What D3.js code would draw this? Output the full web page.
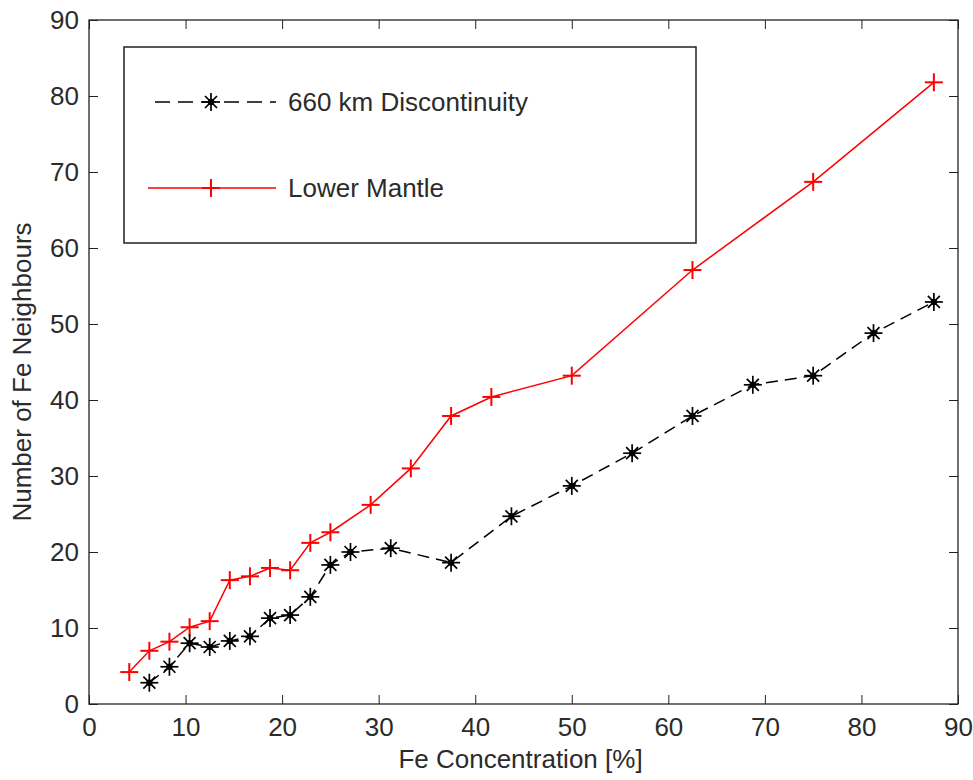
<!DOCTYPE html>
<html><head><meta charset="utf-8">
<script src="https://cdn.jsdelivr.net/npm/d3@7"></script>
<style>body{margin:0;background:#fff}svg{display:block}text{font-family:"Liberation Sans",Arial,sans-serif;fill:#2b2b2b}</style>
</head><body><svg id="c" width="973" height="780"></svg>
<script>
const xTicks = [0,10,20,30,40,50,60,70,80,90];
const yTicks = [0,10,20,30,40,50,60,70,80,90];
const discX = [6.25,8.33,10.42,12.5,14.58,16.67,18.75,20.83,22.92,25,27.08,31.25,37.5,43.75,50,56.25,62.5,68.75,75,81.25,87.5];
const discY = [2.8,4.9,8.0,7.5,8.3,8.9,11.3,11.7,14.1,18.3,20.0,20.5,18.6,24.7,28.7,33.0,37.9,42.0,43.2,48.8,52.9];
const mantleX = [4.17,6.25,8.33,10.42,12.5,14.58,16.67,18.75,20.83,22.92,25,29.17,33.33,37.5,41.67,50,62.5,75,87.5];
const mantleY = [4.2,7.0,8.2,10.1,10.9,16.3,16.8,17.9,17.6,21.2,22.6,26.2,31.0,37.9,40.4,43.2,57.1,68.7,81.8];
const seriesNames = ["660 km Discontinuity","Lower Mantle"];

const svg = d3.select("#c");
const L=89,R=958,T=20,B=704;
const x = d3.scaleLinear().domain([0,90]).range([L,R]);
const y = d3.scaleLinear().domain([0,90]).range([B,T]);
const fs = 26;
const tc = "#2b2b2b";

const tl = 9;
svg.append("g").attr("transform",`translate(0,${B})`)
  .call(d3.axisBottom(x).tickValues(xTicks).tickSize(-tl).tickPadding(14).tickSizeOuter(0))
  .call(g=>{g.select(".domain").remove();g.selectAll("line").attr("stroke","#222");g.selectAll("text").attr("font-size",fs).attr("font-family","Liberation Sans, Arial, sans-serif").attr("fill",tc);});
svg.append("g").attr("transform",`translate(0,${T})`)
  .call(d3.axisTop(x).tickValues(xTicks).tickSize(-tl).tickFormat("").tickSizeOuter(0))
  .call(g=>{g.select(".domain").remove();g.selectAll("line").attr("stroke","#222");});
svg.append("g").attr("transform",`translate(${L},0)`)
  .call(d3.axisLeft(y).tickValues(yTicks).tickSize(-tl).tickPadding(10).tickSizeOuter(0))
  .call(g=>{g.select(".domain").remove();g.selectAll("line").attr("stroke","#222");g.selectAll("text").attr("font-size",fs).attr("font-family","Liberation Sans, Arial, sans-serif").attr("fill",tc);});
svg.append("g").attr("transform",`translate(${R},0)`)
  .call(d3.axisRight(y).tickValues(yTicks).tickSize(-tl).tickFormat("").tickSizeOuter(0))
  .call(g=>{g.select(".domain").remove();g.selectAll("line").attr("stroke","#222");});
svg.append("rect").attr("x",L).attr("y",T).attr("width",R-L).attr("height",B-T)
  .attr("fill","none").attr("stroke","#222").attr("stroke-width",1.3);

svg.append("text").attr("x",(L+R)/2-3).attr("y",768).attr("text-anchor","middle").attr("font-size",fs).text("Fe Concentration [%]");
svg.append("text").attr("transform",`translate(31,${(T+B)/2+10}) rotate(-90)`).attr("text-anchor","middle").attr("font-size",fs).text("Number of Fe Neighbours");

const line = d3.line().x(d=>x(d[0])).y(d=>y(d[1]));
const disc = discX.map((v,i)=>[v,discY[i]]);
const mant = mantleX.map((v,i)=>[v,mantleY[i]]);

function star(g,cx,cy){
  const s=g.append("g").attr("transform",`translate(${cx},${cy})`).attr("stroke","#000").attr("stroke-width",1.7);
  s.append("line").attr("x1",0).attr("x2",0).attr("y1",-9).attr("y2",9);
  s.append("line").attr("x1",-9).attr("x2",9).attr("y1",0).attr("y2",0);
  s.append("line").attr("x1",-6).attr("x2",6).attr("y1",-6).attr("y2",6);
  s.append("line").attr("x1",-6).attr("x2",6).attr("y1",6).attr("y2",-6);
  s.append("circle").attr("r",3.2).attr("fill","#000").attr("stroke","none");
}
function plus(g,cx,cy){
  const s=g.append("g").attr("transform",`translate(${cx},${cy})`).attr("stroke","#ff0000").attr("stroke-width",2);
  s.append("line").attr("x1",0).attr("x2",0).attr("y1",-9).attr("y2",9);
  s.append("line").attr("x1",-9).attr("x2",9).attr("y1",0).attr("y2",0);
}

svg.append("path").datum(mant).attr("d",line).attr("fill","none").attr("stroke","#ff0000").attr("stroke-width",1.5);
svg.append("path").datum(disc).attr("d",line).attr("fill","none").attr("stroke","#000").attr("stroke-width",1.5).attr("stroke-dasharray","12,7");
const gm = svg.append("g"), gd = svg.append("g");
mant.forEach(d=>plus(gm,x(d[0]),y(d[1])));
disc.forEach(d=>star(gd,x(d[0]),y(d[1])));

const lg = svg.append("g");
lg.append("rect").attr("x",124).attr("y",47).attr("width",572).attr("height",196).attr("fill","#fff").attr("stroke","#222").attr("stroke-width",1.5);
lg.append("line").attr("x1",155).attr("x2",276).attr("y1",102).attr("y2",102).attr("stroke","#000").attr("stroke-width",1.5).attr("stroke-dasharray","15,8");
star(lg,211,102);
lg.append("text").attr("x",288).attr("y",111).attr("font-size",fs).text(seriesNames[0]);
lg.append("line").attr("x1",148).attr("x2",276).attr("y1",188).attr("y2",188).attr("stroke","#ff0000").attr("stroke-width",1.5);
plus(lg,211,188);
lg.append("text").attr("x",288).attr("y",197).attr("font-size",fs).text(seriesNames[1]);
</script></body></html>
